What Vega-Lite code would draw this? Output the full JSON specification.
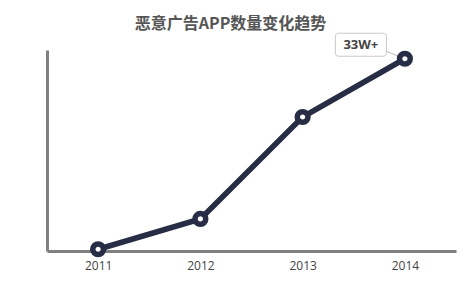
{
  "$schema": "https://vega.github.io/schema/vega-lite/v6.json",
  "width": 409,
  "height": 201,
  "autosize": "none",
  "padding": {"left": 47, "top": 50, "right": 12, "bottom": 32},
  "background": "white",
  "title": {"text": "恶意广告APP数量变化趋势", "font": "Noto Sans CJK SC", "fontSize": 16, "fontWeight": "bold", "color": "#555555", "anchor": "middle", "dx": -21, "offset": 1},
  "config": {"view": {"stroke": null}},
  "data": {"values": [
    {"year": "2011", "count": 0.3, "label": ""},
    {"year": "2012", "count": 5.5, "label": ""},
    {"year": "2013", "count": 23, "label": ""},
    {"year": "2014", "count": 33, "label": "33W+"}
  ]},
  "encoding": {
    "x": {"field": "year", "type": "ordinal", "scale": {"type": "point", "padding": 0.5},
      "axis": {"title": null, "labelAngle": 0, "domainColor": "#808080", "domainWidth": 3, "ticks": false, "labelPadding": 9, "labelFont": "Open Sans", "labelFontSize": 12, "labelColor": "#444444", "grid": false}},
    "y": {"field": "count", "type": "quantitative", "scale": {"domain": [0, 34.5]},
      "axis": {"title": null, "domainColor": "#808080", "domainWidth": 3, "ticks": false, "labels": false, "grid": false}}
  },
  "layer": [
    {"mark": {"type": "line", "color": "#262d45", "strokeWidth": 5.5}},
    {"transform": [{"filter": "datum.label != ''"}],
     "mark": {"type": "rule", "color": "#bbbbbb", "strokeWidth": 1, "xOffset": -20, "yOffset": -8, "x2Offset": 0, "y2Offset": 0},
     "encoding": {"x2": {"field": "year"}, "y2": {"field": "count"}}},
    {"mark": {"type": "point", "filled": true, "fill": "white", "stroke": "#262d45", "strokeWidth": 5.5, "size": 115, "opacity": 1}},
    {"transform": [{"filter": "datum.label != ''"}],
     "mark": {"type": "rect", "width": 51, "height": 23, "cornerRadius": 3, "fill": "white", "stroke": "#c8c8c8", "strokeWidth": 1, "xOffset": -44, "yOffset": -14}},
    {"transform": [{"filter": "datum.label != ''"}],
     "mark": {"type": "text", "font": "Open Sans", "fontSize": 13, "fontWeight": "bold", "color": "#444444", "dx": -44, "dy": -14},
     "encoding": {"text": {"field": "label"}}}
  ]
}
